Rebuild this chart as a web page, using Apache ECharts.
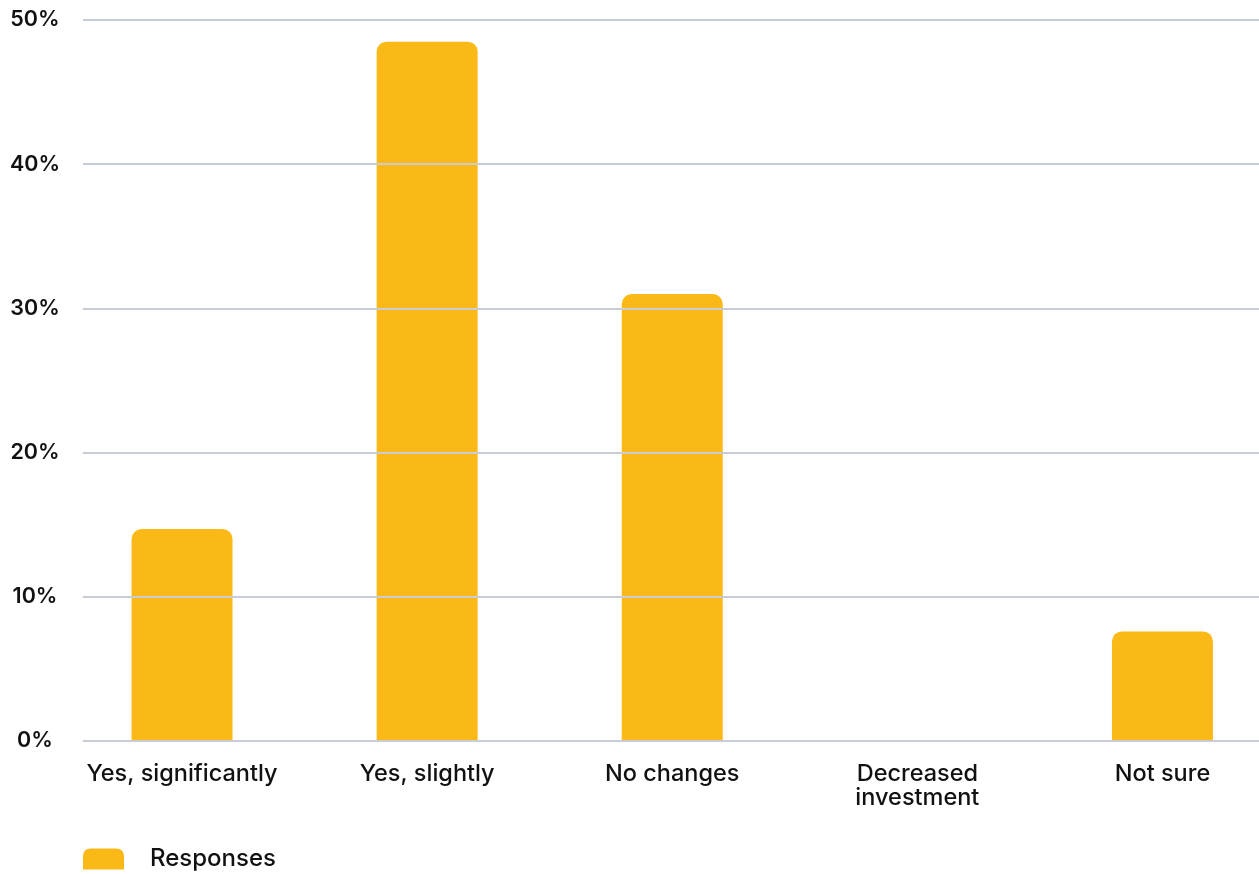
<!DOCTYPE html>
<html>
<head>
<meta charset="utf-8">
<style>
  html, body { margin: 0; padding: 0; background: #ffffff; overflow: hidden; width: 1259px; height: 874px; }
  /* the canvas runs a little past the right edge so the last band keeps its full width */
  #chart { width: 1285px; height: 874px; }
</style>
<script src="https://cdn.jsdelivr.net/npm/echarts@6/dist/echarts.min.js"></script>
</head>
<body>
<div id="chart"></div>
<script>
// Survey answers and their share of responses (%)
const categories = ['Yes, significantly', 'Yes, slightly', 'No changes', 'Decreased\ninvestment', 'Not sure'];
const responses = [14.7, 48.5, 31.0, 0, 7.6];
const yTicks = [0, 10, 20, 30, 40, 50];
const seriesName = 'Responses';

const barColor = '#fbb917';
const gridColor = '#c7ccd6';
const textColor = '#111111';
const fontFamily = 'Inter, "Noto Sans", sans-serif';

const chart = echarts.init(document.getElementById('chart'), null, { renderer: 'canvas' });

chart.setOption({
  animation: false,
  textStyle: { fontFamily: fontFamily },
  legend: {
    left: 83,
    top: 847,
    padding: 0,
    itemWidth: 41,
    itemHeight: 21,
    icon: 'path://M0,8 Q0,0 8,0 L33,0 Q41,0 41,8 L41,21 L0,21 Z',
    data: [seriesName],
    textStyle: {
      color: textColor,
      fontSize: 24,
      fontWeight: 500,
      fontFamily: fontFamily,
      padding: [0, 0, 0, 21]
    }
  },
  grid: [
    // value scale with horizontal rules
    { left: 83, right: 26, top: 20, height: 721, containLabel: false },
    // category bands for the bars
    { left: 59.5, right: 0, top: 20, height: 721, containLabel: false }
  ],
  xAxis: [
    {
      gridIndex: 0, type: 'value', min: 0, max: 1, show: false
    },
    {
      gridIndex: 1,
      type: 'category',
      data: categories,
      axisLine: { show: false },
      axisTick: { show: false },
      axisLabel: {
        color: textColor,
        fontSize: 23.5,
        fontWeight: 500,
        fontFamily: fontFamily,
        lineHeight: 24,
        margin: 21,
        verticalAlign: 'top',
        interval: 0
      }
    }
  ],
  yAxis: [
    {
      gridIndex: 0,
      type: 'value',
      min: yTicks[0],
      max: yTicks[yTicks.length - 1],
      interval: 10,
      z: 5,
      axisLine: { show: false },
      axisTick: { show: false },
      splitLine: { show: true, lineStyle: { color: gridColor, width: 2 } },
      axisLabel: {
        color: textColor,
        fontSize: 21.5,
        fontWeight: 600,
        fontFamily: fontFamily,
        align: 'center',
        margin: 48,
        formatter: v => v + '%'
      }
    },
    {
      gridIndex: 1,
      type: 'value',
      min: yTicks[0],
      max: yTicks[yTicks.length - 1],
      show: false,
      splitLine: { show: false }
    }
  ],
  series: [
    {
      name: seriesName,
      type: 'bar',
      xAxisIndex: 1,
      yAxisIndex: 1,
      data: responses,
      barWidth: 101,
      z: 2,
      itemStyle: { color: barColor, borderRadius: [10, 10, 0, 0] }
    }
  ]
});
</script>
</body>
</html>
